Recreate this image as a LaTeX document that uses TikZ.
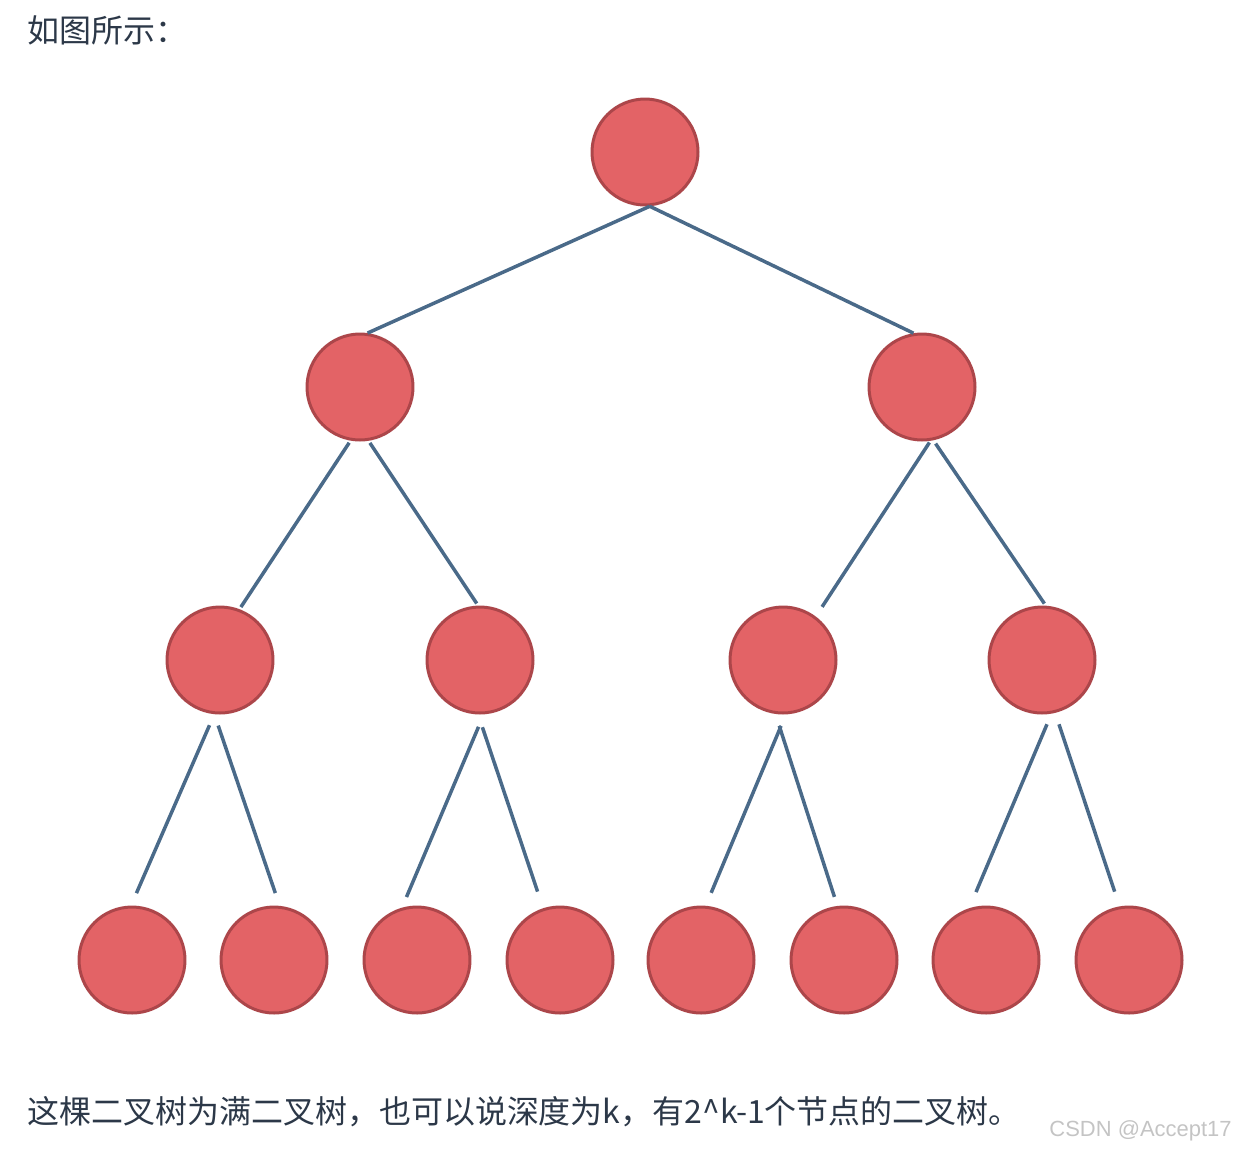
\documentclass[tikz,border=0pt]{standalone}
\usepackage{fontspec}
\newfontfamily\cjk{Noto Sans CJK SC}
\newfontfamily\wmfont{Liberation Sans}
\usetikzlibrary{positioning}
\definecolor{nodefill}{RGB}{227,99,102}
\definecolor{nodeedge}{RGB}{172,70,74}
\definecolor{edgeblue}{RGB}{74,106,137}
\definecolor{textdark}{RGB}{44,56,72}
\definecolor{wmgray}{RGB}{196,196,196}

\begin{document}
\begin{tikzpicture}[x=0.02cm,y=-0.02cm,
  treenode/.style={circle,draw=nodeedge,fill=nodefill,line width=0.06cm,
    minimum size=2.12cm,inner sep=0pt},
  branch/.style={edgeblue,line width=0.07cm},
  caption/.style={textdark,anchor=west,inner sep=0pt,
    font=\cjk\fontsize{18.2pt}{21pt}\selectfont}]
\useasboundingbox (0,0) rectangle (1236,1150);
% ---------------- texts ----------------
\node[caption] (intro) at (27,30) {如图所示：};
\node[caption] (outro) at (27,1112)
  {这棵二叉树为满二叉树，也可以说深度为k，有2\^{}k-1个节点的二叉树。};
\node[wmgray,anchor=east,inner sep=0pt,font=\wmfont\fontsize{12.5pt}{14pt}\selectfont]
  (mark) at (1232,1131) {CSDN @Accept17};
% ---------------- nodes ----------------
\node[treenode] (root) at (645,152) {};
\node[treenode] (l) at (360,387) {};
\node[treenode] (r) at (922,387) {};
\node[treenode] (ll) at (220,660) {};
\node[treenode] (lr) at (480,660) {};
\node[treenode] (rl) at (783,660) {};
\node[treenode] (rr) at (1042,660) {};
\node[treenode] (lll) at (132,960) {};
\node[treenode] (llr) at (274,960) {};
\node[treenode] (lrl) at (417,960) {};
\node[treenode] (lrr) at (560,960) {};
\node[treenode] (rll) at (701,960) {};
\node[treenode] (rlr) at (844,960) {};
\node[treenode] (rrl) at (986,960) {};
\node[treenode] (rrr) at (1129,960) {};
% ---------------- branches ----------------
\draw[branch] (root.-85) -- (l.82);
\draw[branch] (root.-85) -- (r.99);
\draw[branch,shorten <=0.05cm,shorten >=0.05cm] (l.-100) -- (ll.69);
\draw[branch,shorten <=0.05cm,shorten >=0.05cm] (l.-81) -- (lr.92);
\draw[branch,shorten <=0.04cm,shorten >=0.23cm] (r.-81.5) -- (rl.53);
\draw[branch,shorten <=0.08cm,shorten >=0.05cm] (r.-78.5) -- (rr.86.5);
% bottom row
\draw[branch,shorten <=0.24cm,shorten >=0.27cm] (ll.-96.4) -- (lll.91.4);
\draw[branch,shorten <=0.24cm,shorten >=0.27cm] (ll.-96.3) -- (llr.84.4);
\draw[branch,shorten <=0.27cm,shorten >=0.23cm] (lr.-86.6) -- (lrl.106);
\draw[branch,shorten <=0.27cm,shorten >=0.35cm] (lr.-92.4) -- (lrr.108.7);
\draw[branch,shorten <=0.25cm,shorten >=0.28cm] (rl.-87) -- (rll.85.2);
\draw[branch,shorten <=0.25cm,shorten >=0.19cm] (rl.-98) -- (rlr.97.5);
\draw[branch,shorten <=0.23cm,shorten >=0.35cm] (rr.-80.3) -- (rrl.108);
\draw[branch,shorten <=0.24cm,shorten >=0.31cm] (rr.-76.4) -- (rrr.100.8);
\end{tikzpicture}
\end{document}
